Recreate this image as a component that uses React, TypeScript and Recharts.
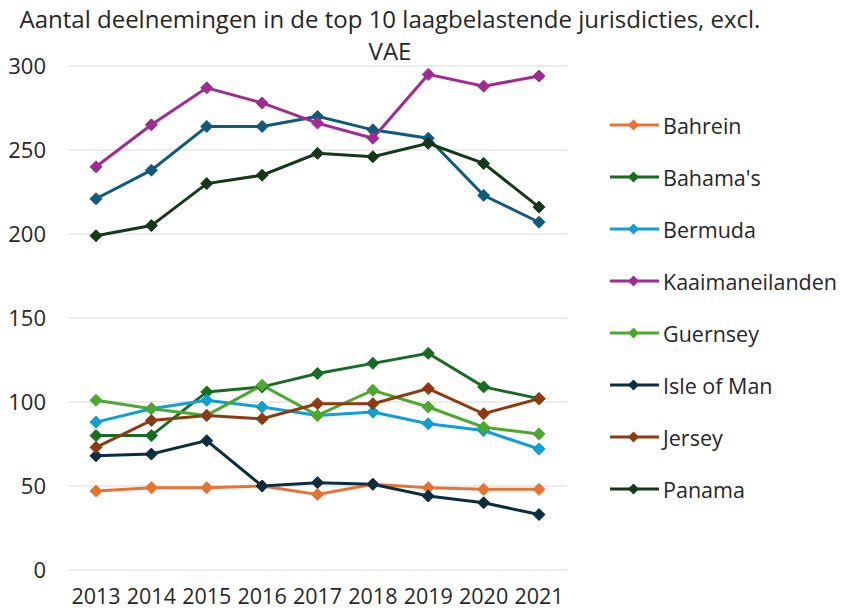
import React from 'react';
import { LineChart, Line, XAxis, YAxis, CartesianGrid, Legend } from 'recharts';

const years = ['2013', '2014', '2015', '2016', '2017', '2018', '2019', '2020', '2021'];
const yTicks = [0, 50, 100, 150, 200, 250, 300];

const britseMaagdeneilanden = [221, 238, 264, 264, 270, 262, 257, 223, 207];
const bahrein = [47, 49, 49, 50, 45, 51, 49, 48, 48];
const bahamas = [80, 80, 106, 109, 117, 123, 129, 109, 102];
const bermuda = [88, 96, 101, 97, 92, 94, 87, 83, 72];
const kaaimaneilanden = [240, 265, 287, 278, 266, 257, 295, 288, 294];
const guernsey = [101, 96, 92, 110, 92, 107, 97, 85, 81];
const isleOfMan = [68, 69, 77, 50, 52, 51, 44, 40, 33];
const jersey = [73, 89, 92, 90, 99, 99, 108, 93, 102];
const panama = [199, 205, 230, 235, 248, 246, 254, 242, 216];

const seriesNames = [
  'Britse Maagdeneilanden',
  'Bahrein',
  "Bahama's",
  'Bermuda',
  'Kaaimaneilanden',
  'Guernsey',
  'Isle of Man',
  'Jersey',
  'Panama',
];
const seriesValues = [
  britseMaagdeneilanden,
  bahrein,
  bahamas,
  bermuda,
  kaaimaneilanden,
  guernsey,
  isleOfMan,
  jersey,
  panama,
];
const seriesColors = [
  '#125A7A',
  '#E97132',
  '#196B24',
  '#0F9ED5',
  '#A02B93',
  '#4EA72E',
  '#0C2D40',
  '#8C3A12',
  '#153818',
];
const inLegend = [false, true, true, true, true, true, true, true, true];

const data = years.map((year, i) => {
  const row: Record<string, string | number> = { year };
  seriesValues.forEach((vals, s) => {
    row['s' + s] = vals[i];
  });
  return row;
});

const FONT = "'Open Sans', sans-serif";

const makeDiamond = (color: string) => (props: any) => {
  const { cx, cy, index } = props;
  if (cx == null || cy == null) return <g key={index} />;
  const r = 6;
  return (
    <path
      key={index}
      d={`M${cx},${cy - r}L${cx + r},${cy}L${cx},${cy + r}L${cx - r},${cy}Z`}
      fill={color}
      stroke={color}
      strokeWidth={1}
    />
  );
};

const LegendContent = (props: any) => {
  const payload = (props.payload || [])
    .filter((p: any) => p.type !== 'none')
    .slice()
    .sort((a: any, b: any) => seriesNames.indexOf(a.value) - seriesNames.indexOf(b.value));
  return (
    <div style={{ fontFamily: FONT }}>
      {payload.map((p: any, i: number) => (
        <div
          key={i}
          style={{ height: 52, display: 'flex', alignItems: 'center' }}
        >
          <svg width={50} height={14} style={{ display: 'block' }}>
            <line x1={0} y1={7} x2={49} y2={7} stroke={p.color} strokeWidth={3} />
            <path d="M23.5,1.5L29,7L23.5,12.5L18,7Z" fill={p.color} />
          </svg>
          <span style={{ marginLeft: 3, fontSize: 21.5, color: '#262626' }}>{p.value}</span>
        </div>
      ))}
    </div>
  );
};

export default function App() {
  return (
    <div style={{ position: 'absolute', left: 0, top: 0, width: 856, height: 610, background: '#fff' }}>
      <div
        style={{
          position: 'absolute',
          left: 0,
          top: 3,
          width: 780,
          textAlign: 'center',
          fontFamily: FONT,
          fontSize: 24,
          lineHeight: '32px',
          color: '#262626',
          whiteSpace: 'nowrap',
        }}
      >
        Aantal deelnemingen in de top 10 laagbelastende jurisdicties, excl.
        <br />
        VAE
      </div>
      <LineChart
        width={856}
        height={610}
        data={data}
        margin={{ top: 66, right: 289, bottom: 0, left: 8 }}
        style={{ fontFamily: FONT }}
      >
        <CartesianGrid vertical={false} stroke="#d9d9d9" strokeWidth={1.2} />
        <XAxis
          dataKey="year"
          axisLine={false}
          tickLine={false}
          tickSize={6}
          tickMargin={13}
          padding={{ left: 28, right: 28 }}
          tick={{ fontSize: 21.5, fill: '#262626' }}
          interval={0}
          height={40}
        />
        <YAxis
          domain={[0, 300]}
          ticks={yTicks}
          axisLine={false}
          tickLine={false}
          tickSize={6}
          tickMargin={16}
          width={60}
          tick={{ fontSize: 22, fill: '#262626' }}
        />
        <Legend
          layout="vertical"
          align="center"
          verticalAlign="middle"
          wrapperStyle={{ left: 610, top: 99, width: 240 }}
          content={LegendContent}
        />
        {seriesNames.map((name, s) => (
          <Line
            key={name}
            type="linear"
            dataKey={'s' + s}
            name={name}
            stroke={seriesColors[s]}
            strokeWidth={3}
            dot={makeDiamond(seriesColors[s])}
            activeDot={false}
            legendType={inLegend[s] ? 'line' : 'none'}
            isAnimationActive={false}
          />
        ))}
      </LineChart>
    </div>
  );
}
